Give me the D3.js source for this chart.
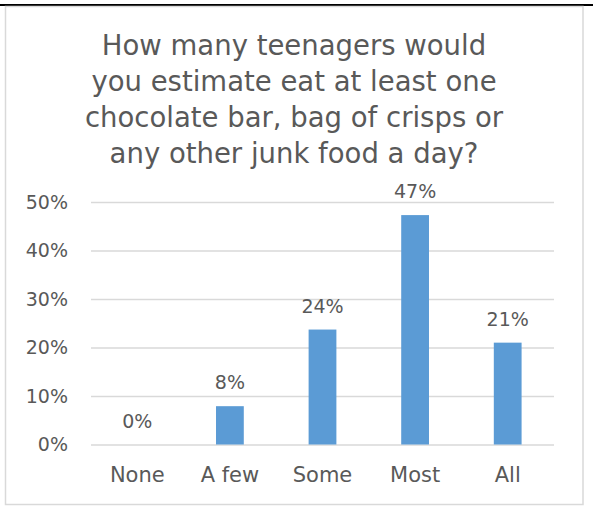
<!DOCTYPE html>
<html>
<head>
<meta charset="utf-8">
<script src="https://cdn.jsdelivr.net/npm/d3@7"></script>
<style>
  html, body { margin: 0; padding: 0; background: #fff; }
  svg { display: block; }
  text { font-family: "DejaVu Sans", sans-serif; fill: #595959; }
</style>
</head>
<body>
<svg id="chart" width="593" height="506"></svg>
<script>
const titleLines = [
  "How many teenagers would",
  "you estimate eat at least one",
  "chocolate bar, bag of crisps or",
  "any other junk food a day?"
];
const categories = ["None", "A few", "Some", "Most", "All"];
const values = [0, 0.079, 0.237, 0.473, 0.21];
const tickValues = [0, 0.1, 0.2, 0.3, 0.4, 0.5];

const svg = d3.select("#chart");

// top black line and chart frame
svg.append("line").attr("x1", 0).attr("x2", 593).attr("y1", 5).attr("y2", 5)
  .attr("stroke", "#000").attr("stroke-width", 2);
svg.append("rect").attr("x", 5.5).attr("y", 6.5).attr("width", 577.5).attr("height", 498)
  .attr("fill", "#fff").attr("stroke", "#d9d9d9").attr("stroke-width", 1.5);

const x = d3.scaleBand().domain(categories).range([91, 554]).paddingInner(0.7).paddingOuter(0.35);
const y = d3.scaleLinear().domain([0, 0.5]).range([444.5, 202]);

// title
svg.append("g").selectAll("text").data(titleLines).join("text")
  .attr("x", 294).attr("y", (d, i) => 55 + i * 36)
  .attr("text-anchor", "middle")
  .style("font-size", "27.5px")
  .text(d => d);

// grid
const yAxis = d3.axisLeft(y).tickValues(tickValues).tickSize(-(554 - 91))
  .tickFormat(d3.format(".0%")).tickPadding(23);
const gy = svg.append("g").attr("transform", "translate(91,0)").call(yAxis);
gy.select(".domain").remove();
gy.selectAll(".tick line").attr("stroke", "#d9d9d9").attr("stroke-width", 1.3);
gy.selectAll(".tick text").style("font-size", "19px").attr("fill", "#595959")
  .style("font-family", "DejaVu Sans, sans-serif");

// bars
svg.append("g").selectAll("rect").data(values).join("rect")
  .attr("x", (d, i) => x(categories[i]))
  .attr("width", x.bandwidth())
  .attr("y", d => y(d))
  .attr("height", d => y(0) - y(d))
  .attr("fill", "#5b9bd5");

// data labels
svg.append("g").selectAll("text").data(values).join("text")
  .attr("x", (d, i) => x(categories[i]) + x.bandwidth() / 2)
  .attr("y", d => y(d) - 17)
  .attr("text-anchor", "middle")
  .style("font-size", "19px")
  .text(d => d3.format(".0%")(d));

// x axis
const xAxis = d3.axisBottom(x).tickSize(0).tickPadding(23);
const gx = svg.append("g").attr("transform", "translate(0,444.5)").call(xAxis);
gx.select(".domain").remove();
gx.selectAll(".tick text").style("font-size", "21px").attr("fill", "#595959")
  .style("font-family", "DejaVu Sans, sans-serif");
</script>
</body>
</html>
